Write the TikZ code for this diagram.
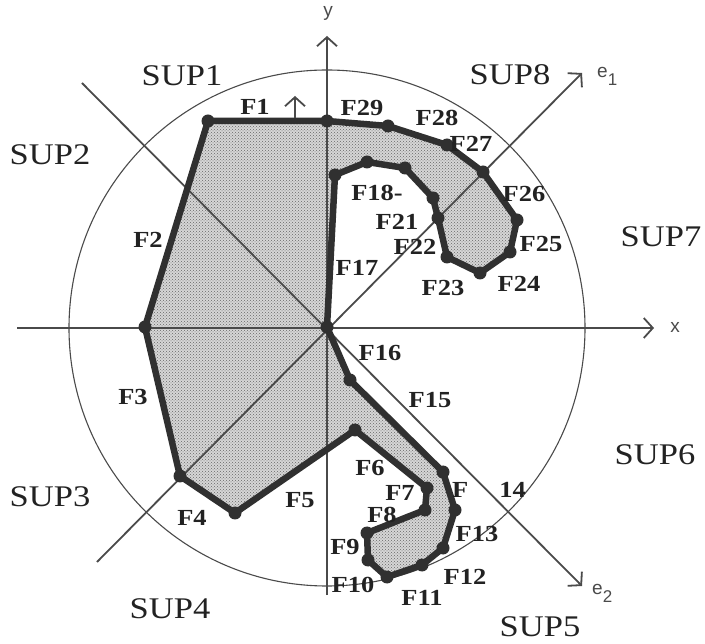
\documentclass[tikz,border=0pt]{standalone}
\usepackage{fontspec}
\setmainfont{Liberation Serif}
\newfontfamily\labfont[FakeStretch=1.15]{Liberation Serif}
\newfontfamily\axfont{Liberation Sans}
\usetikzlibrary{arrows.meta,patterns}
\definecolor{ink}{HTML}{303030}
\definecolor{lab}{HTML}{222222}
\definecolor{axc}{HTML}{4a4a4a}
\tikzset{
  axisline/.style={draw=axc, line width=1.8pt, -{Straight Barb[length=9pt,width=20pt,line width=1.8pt]}},
  circ/.style={draw=axc, line width=1.1pt},
  outline/.style={draw=ink, line width=6.5pt, line join=round},
  vdot/.style={fill=ink},
  suplab/.style={text=lab, font=\labfont\fontsize{30}{30}\selectfont, inner sep=0pt},
  flab/.style={text=lab, font=\labfont\bfseries\fontsize{23}{23}\selectfont, inner sep=0pt},
  axlab/.style={text=axc, font=\axfont\fontsize{19}{19}\selectfont, inner sep=0pt},
}
\begin{document}
\begin{tikzpicture}[x=1pt,y=-1pt]
\useasboundingbox (0,0) rectangle (705,644);
% origin and axis ends
\coordinate (O) at (327,327);
\coordinate (xl) at (17,328);
\coordinate (xr) at (654,328);
\coordinate (yb) at (327,595);
\coordinate (yt) at (327,36);
\coordinate (e1a) at (97,562);
\coordinate (e1b) at (582,73);
\coordinate (e2a) at (82,83);
\coordinate (e2b) at (582,586);
% polygon vertices
\coordinate (a1) at (208,121);
\coordinate (a2) at (327,121);
\coordinate (a3) at (388,126);
\coordinate (a4) at (447,145);
\coordinate (a5) at (483,172);
\coordinate (a6) at (517,220);
\coordinate (a7) at (510,252);
\coordinate (a8) at (480,273);
\coordinate (a9) at (447,257);
\coordinate (a10) at (438,218);
\coordinate (a11) at (433,198);
\coordinate (a12) at (405,168);
\coordinate (a13) at (367,162);
\coordinate (a14) at (335,175);
\coordinate (b1) at (350,380);
\coordinate (b2) at (443,472);
\coordinate (b3) at (455,510);
\coordinate (b4) at (443,548);
\coordinate (b5) at (422,565);
\coordinate (b6) at (387,577);
\coordinate (b7) at (368,560);
\coordinate (b8) at (367,533);
\coordinate (b9) at (425,510);
\coordinate (b10) at (427,488);
\coordinate (b11) at (355,430);
\coordinate (b12) at (235,513);
\coordinate (b13) at (180,476);
\coordinate (b14) at (145,327);
% fill
\fill[black!16] (a1)--(a2)--(a3)--(a4)--(a5)--(a6)--(a7)--(a8)--(a9)--(a10)--(a11)--(a12)--(a13)--(a14)--(O)--(b1)--(b2)--(b3)--(b4)--(b5)--(b6)--(b7)--(b8)--(b9)--(b10)--(b11)--(b12)--(b13)--(b14)--cycle;
\fill[pattern=crosshatch dots, pattern color=black!60] (a1)--(a2)--(a3)--(a4)--(a5)--(a6)--(a7)--(a8)--(a9)--(a10)--(a11)--(a12)--(a13)--(a14)--(O)--(b1)--(b2)--(b3)--(b4)--(b5)--(b6)--(b7)--(b8)--(b9)--(b10)--(b11)--(b12)--(b13)--(b14)--cycle;
% circle and axes
\draw[circ] (327,328) circle[radius=258];
\draw[axisline] (xl) -- (xr);
\draw[axisline] (yb) -- (yt);
\draw[axisline] (e1a) -- (e1b);
\draw[axisline] (e2a) -- (e2b);
% outline
\draw[outline] (a1)--(a2)--(a3)--(a4)--(a5)--(a6)--(a7)--(a8)--(a9)--(a10)--(a11)--(a12)--(a13)--(a14)--(O)--(b1)--(b2)--(b3)--(b4)--(b5)--(b6)--(b7)--(b8)--(b9)--(b10)--(b11)--(b12)--(b13)--(b14)--cycle;
\foreach \v in {a1,a2,a3,a4,a5,a6,a7,a8,a9,a10,a11,a12,a13,a14,O,b1,b2,b3,b4,b5,b6,b7,b8,b9,b10,b11,b12,b13,b14}
  \fill[vdot] (\v) circle[radius=6.5];
% F1 normal arrow
\coordinate (n1) at (295,118);
\coordinate (n2) at (295,96);
\draw[axisline, line width=1.5pt] (n1) -- (n2);
% axis labels
\node[axlab] (ylab) at (328,13) {y};
\node[axlab] (xlab) at (675,327) {x};
\node[axlab, anchor=west] (e1lab) at (597,76) {e\raisebox{-8pt}{\fontsize{17}{17}\selectfont 1}};
\node[axlab, anchor=west] (e2lab) at (592,593) {e\raisebox{-8pt}{\fontsize{17}{17}\selectfont 2}};
% SUP labels
\node[suplab] (s1) at (182,76) {SUP1};
\node[suplab] (s2) at (50,155) {SUP2};
\node[suplab] (s3) at (50,497) {SUP3};
\node[suplab] (s4) at (170,609) {SUP4};
\node[suplab] (s5) at (540,627) {SUP5};
\node[suplab] (s6) at (655,455) {SUP6};
\node[suplab] (s7) at (661,237) {SUP7};
\node[suplab] (s8) at (510,75) {SUP8};
% F labels
\node[flab] (f1) at (255,107) {F1};
\node[flab] (f29) at (362,108) {F29};
\node[flab] (f28) at (437,118) {F28};
\node[flab] (f27) at (471,144) {F27};
\node[flab] (f26) at (524,194) {F26};
\node[flab] (f25) at (541,244) {F25};
\node[flab] (f24) at (519,284) {F24};
\node[flab] (f23) at (443,288) {F23};
\node[flab] (f22) at (415,247) {F22};
\node[flab] (f21) at (397,222) {F21};
\node[flab] (f18) at (377,193) {F18-};
\node[flab] (f17) at (357,268) {F17};
\node[flab] (f16) at (380,353) {F16};
\node[flab] (f15) at (430,400) {F15};
\node[flab] (f14) at (489,490) {F\hspace{31pt}14};
\node[flab] (f13) at (477,534) {F13};
\node[flab] (f12) at (465,577) {F12};
\node[flab] (f11) at (422,598) {F11};
\node[flab] (f10) at (353,585) {F10};
\node[flab] (f9) at (345,547) {F9};
\node[flab] (f8) at (382,515) {F8};
\node[flab] (f7) at (400,493) {F7};
\node[flab] (f6) at (370,468) {F6};
\node[flab] (f5) at (300,500) {F5};
\node[flab] (f4) at (192,518) {F4};
\node[flab] (f3) at (133,397) {F3};
\node[flab] (f2) at (148,240) {F2};
\end{tikzpicture}
\end{document}
